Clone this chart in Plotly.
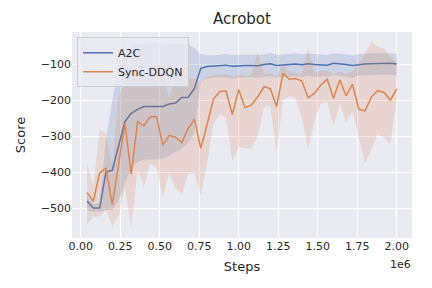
import plotly.graph_objects as go

steps = [40000, 80000, 120000, 160000, 200000, 240000, 280000, 320000, 360000, 400000,
         440000, 480000, 520000, 560000, 600000, 640000, 680000, 720000, 760000, 800000,
         840000, 880000, 920000, 960000, 1000000, 1040000, 1080000, 1120000, 1160000, 1200000,
         1240000, 1280000, 1320000, 1360000, 1400000, 1440000, 1480000, 1520000, 1560000, 1600000,
         1640000, 1680000, 1720000, 1760000, 1800000, 1840000, 1880000, 1920000, 1960000, 2000000]

a2c_mean = [-480, -500, -500, -400, -395, -330, -260, -237, -226, -218,
            -218, -217, -218, -211, -208, -193, -192, -168, -112, -107,
            -106, -103, -103, -106, -104, -104, -104, -105, -101, -99,
            -104, -103, -101, -100, -102, -99, -101, -102, -103, -98,
            -99, -101, -104, -101, -100, -99, -98, -97, -98, -100]
a2c_low = [-505, -510, -510, -505, -505, -480, -430, -390, -372, -366,
           -365, -365, -362, -355, -345, -335, -320, -290, -150, -140,
           -138, -136, -137, -140, -138, -137, -136, -138, -135, -134,
           -137, -136, -135, -134, -136, -133, -135, -136, -135, -130,
           -132, -134, -138, -132, -131, -130, -130, -129, -130, -132]
a2c_high = [-465, -490, -485, -310, -200, -100, -70, -50, -42, -40,
            -40, -42, -40, -42, -45, -42, -45, -55, -72, -75,
            -76, -74, -72, -75, -74, -73, -74, -75, -72, -70,
            -74, -74, -72, -70, -73, -71, -72, -74, -75, -70,
            -71, -73, -76, -72, -71, -70, -70, -69, -70, -72]

ddqn_mean = [-457, -481, -402, -390, -490, -375, -265, -406, -260, -272,
             -246, -246, -325, -298, -303, -318, -279, -253, -334, -268,
             -197, -176, -175, -240, -171, -221, -214, -191, -163, -168,
             -218, -126, -142, -140, -147, -194, -181, -158, -142, -195,
             -144, -188, -156, -225, -230, -191, -174, -179, -200, -169]
ddqn_low = [-545, -524, -524, -505, -550, -520, -440, -555, -394, -440,
            -376, -390, -469, -404, -445, -460, -404, -404, -464, -376,
            -265, -240, -250, -370, -330, -334, -334, -302, -220, -215,
            -345, -200, -190, -195, -250, -334, -256, -209, -205, -272,
            -210, -260, -232, -304, -376, -337, -295, -304, -322, -200]
ddqn_high = [-376, -440, -283, -293, -380, -190, -150, -120, -118, -125,
             -128, -125, -135, -195, -140, -140, -138, -140, -150, -135,
             -132, -130, -128, -135, -130, -132, -130, -66, -128, -126,
             -135, -100, -120, -125, -128, -57, -125, -118, -118, -130,
             -120, -128, -122, -98, -70, -38, -52, -57, -80, -94]

x_tickvals = [0, 250000, 500000, 750000, 1000000, 1250000, 1500000, 1750000, 2000000]
x_ticktext = ["0.00", "0.25", "0.50", "0.75", "1.00", "1.25", "1.50", "1.75", "2.00"]
y_tickvals = [-500, -400, -300, -200, -100]
y_ticktext = ["−500", "−400", "−300", "−200", "−100"]

BLUE = "#4C72B0"
ORANGE = "#DD8452"
TXT = "#262626"
FONT = "DejaVu Sans"

fig = go.Figure()

def band(low, high, color):
    fig.add_trace(go.Scatter(x=steps, y=low, mode="lines", line=dict(width=0),
                             showlegend=False, hoverinfo="skip"))
    fig.add_trace(go.Scatter(x=steps, y=high, mode="lines", line=dict(width=0),
                             fill="tonexty", fillcolor=color,
                             showlegend=False, hoverinfo="skip"))

band(a2c_low, a2c_high, "rgba(76,114,176,0.2)")
fig.add_trace(go.Scatter(x=steps, y=a2c_mean, mode="lines", name="A2C",
                         line=dict(color=BLUE, width=1.5)))
band(ddqn_low, ddqn_high, "rgba(221,132,82,0.2)")
fig.add_trace(go.Scatter(x=steps, y=ddqn_mean, mode="lines", name="Sync-DDQN",
                         line=dict(color=ORANGE, width=1.5)))

# the page body has an 8px margin, so the figure is 8px smaller and margins shifted
W, H = 424, 280
fig.update_layout(
    width=W, height=H,
    margin=dict(l=64, r=20, t=24, b=50, autoexpand=False),
    paper_bgcolor="white",
    plot_bgcolor="#EAEAF2",
    font=dict(family=FONT, color=TXT, size=11),
    title=dict(text="Acrobot", x=0.5, xref="paper", xanchor="center",
               y=1 - 11 / H, yref="container", yanchor="middle",
               font=dict(size=15, color=TXT)),
    legend=dict(x=0.015, y=0.975, xanchor="left", yanchor="top",
                traceorder="normal",
                bgcolor="rgba(234,234,242,0.8)", bordercolor="#cccccc", borderwidth=1,
                font=dict(size=11, color=TXT), tracegroupgap=0,
                itemwidth=30),
    xaxis=dict(range=[-55000, 2097000], tickvals=x_tickvals, ticktext=x_ticktext,
               automargin=False,
               showgrid=True, gridcolor="white", gridwidth=1, zeroline=False,
               showline=False, ticks="", tickfont=dict(size=11, color=TXT),
               title=dict(text="Steps", font=dict(size=13, color=TXT), standoff=9)),
    yaxis=dict(range=[-583, -11], tickvals=y_tickvals, ticktext=y_ticktext,
               automargin=False,
               showgrid=True, gridcolor="white", gridwidth=1, zeroline=False,
               showline=False, ticks="", tickfont=dict(size=11, color=TXT),
               title=dict(text="Score", font=dict(size=13, color=TXT), standoff=12)),
    annotations=[dict(text="1e6", x=0.965, y=-0.128, xref="paper", yref="paper",
                      xanchor="center", yanchor="middle", showarrow=False,
                      font=dict(size=11, color=TXT))],
)

fig.write_html("out.html")
